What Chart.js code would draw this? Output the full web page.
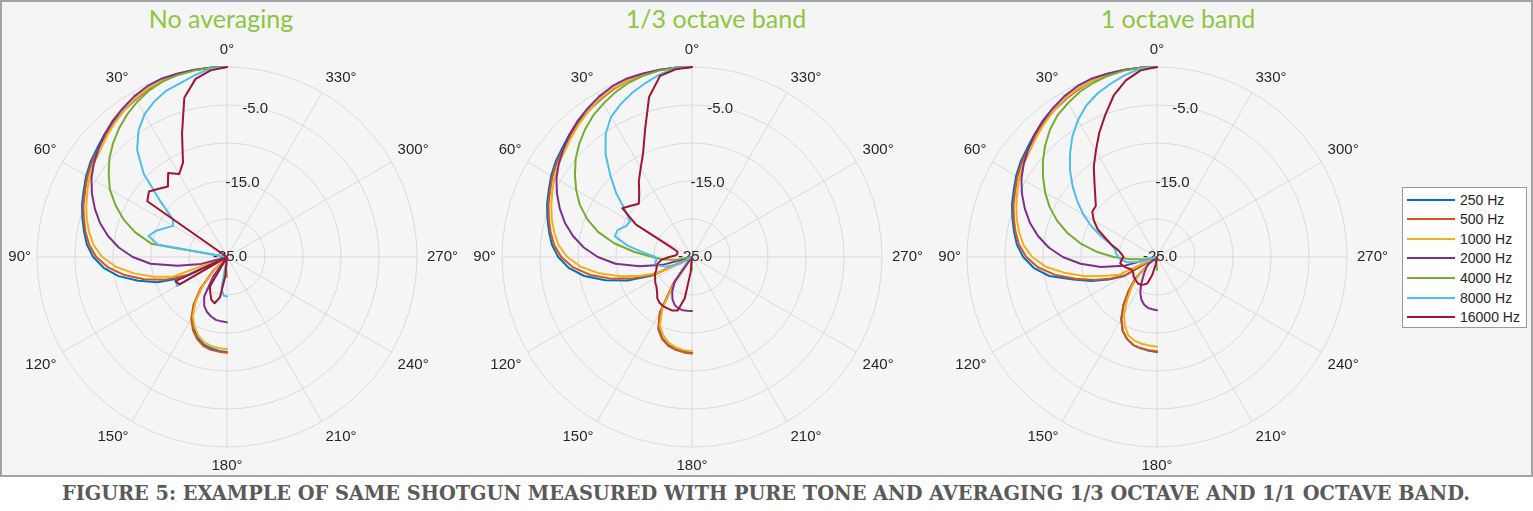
<!DOCTYPE html>
<html>
<head>
<meta charset="utf-8">
<script src="https://cdn.jsdelivr.net/npm/chart.js@4.4.1/dist/chart.umd.min.js"></script>
<style>
  html, body { margin: 0; padding: 0; background: #ffffff; }
  body { width: 1533px; height: 511px; position: relative; overflow: hidden; }
  #frame { position: absolute; left: 0; top: 0; width: 1529px; height: 473px; border: 2px solid #a0a4a8; background: #f5f5f5; }
  canvas { position: absolute; }
  .title { position: absolute; top: 5px; font-family: Lato, "Open Sans", sans-serif; font-size: 25px; line-height: 26px; color: #8dc63f; white-space: nowrap; transform: translateX(-50%); }
  #legend { position: absolute; left: 1402px; top: 187px; width: 123px; height: 139px; border: 1px solid #9a9a9a; background: #ffffff; z-index: 5; }
  .lgline { position: absolute; height: 2px; width: 48px; z-index: 6; }
  .lgtext { position: absolute; font-family: "Liberation Sans", Arial, sans-serif; font-size: 14px; line-height: 16px; color: #262626; white-space: nowrap; z-index: 6; }
  #caption { position: absolute; left: 62px; top: 483px; font-family: "DejaVu Serif", serif; font-weight: bold; font-size: 20px; line-height: 20px; color: #5a5a5a; white-space: nowrap; transform-origin: 0 0; }
</style>
</head>
<body>
<div id="frame"></div>
<canvas id="c0" width="540" height="436" style="left:-43px;top:40px"></canvas>
<canvas id="c1" width="540" height="436" style="left:422px;top:40px"></canvas>
<canvas id="c2" width="540" height="436" style="left:887px;top:40px"></canvas>
<div id="titles"></div>
<div id="legend"></div>
<div id="caption">FIGURE 5: EXAMPLE OF SAME SHOTGUN MEASURED WITH PURE TONE AND AVERAGING 1/3 OCTAVE AND 1/1 OCTAVE BAND.</div>
<script>
// ---------- data ----------
const angleDeg = [0,5,10,15,20,25,30,35,40,45,50,55,60,65,70,75,80,85,90,95,100,105,110,115,120,125,130,135,140,145,150,155,160,165,170,175,180];
const seriesNames = ['250 Hz','500 Hz','1000 Hz','2000 Hz','4000 Hz','8000 Hz','16000 Hz'];
const seriesColors = ['#0072BD','#D95319','#EDB120','#7E2F8E','#77AC30','#4DBEEE','#A2142F'];
const panelTitles = ['No averaging','1/3 octave band','1 octave band'];
const panelTitleCenters = [221, 716, 1178];
const angleTickLabels = ['0°','30°','60°','90°','120°','150°','180°','210°','240°','270°','300°','330°'];
const radialTickValues = [-5, -15, -25];
const radialTickLabels = ['-5.0','-15.0','-25.0'];

// No averaging
const noAvg250 = [0,0,0,-0.1,-0.3,-0.6,-1.0,-1.4,-1.8,-2.2,-2.7,-3.1,-3.6,-4.2,-4.7,-5.3,-5.9,-6.5,-7.4,-8.7,-10.5,-12.9,-15.3,-18.5,-25,-25,-25,-22.5,-19.8,-17.5,-15.8,-14.6,-13.7,-13.1,-12.8,-12.6,-12.5];
const noAvg500 = [0,0,0,-0.1,-0.3,-0.6,-1.0,-1.4,-1.9,-2.4,-2.9,-3.3,-3.8,-4.4,-4.9,-5.5,-6.1,-6.8,-7.8,-9.3,-11.3,-13.7,-16.2,-19.5,-25,-25,-25,-22.4,-19.6,-17.3,-15.6,-14.4,-13.5,-12.9,-12.6,-12.5,-12.4];
const noAvg1000 = [0,0,0,-0.1,-0.3,-0.5,-0.9,-1.4,-2.0,-2.6,-3.2,-3.6,-4.1,-4.7,-5.3,-5.9,-6.6,-7.4,-8.6,-10.3,-12.6,-15.0,-17.4,-25,-25,-25,-25,-22.8,-20.0,-17.8,-16.0,-14.9,-14.0,-13.4,-13.1,-12.95,-12.9];
const noAvg2000 = [0,0,0,0,0,-0.2,-0.6,-1.1,-1.6,-2.2,-2.9,-3.6,-4.4,-5.4,-6.5,-7.7,-9.1,-10.7,-12.6,-14.9,-18.4,-21.5,-25,-25,-25,-25,-25,-25,-25,-21.8,-19.0,-17.9,-17.3,-16.9,-16.6,-16.5,-16.4];
const noAvg4000 = [0,0,-0.1,-0.2,-0.4,-0.8,-1.4,-2.1,-2.9,-3.8,-4.8,-6.0,-7.2,-8.8,-10.5,-12.5,-14.9,-25,-25,-25,-25,-25,-25,-25,-25,-25,-25,-25,-25,-25,-25,-25,-25,-25,-25,-23.5,-22.4];
const noAvg8000 = [0,-0.1,-0.7,-1.3,-1.7,-2.4,-3.3,-4.7,-6.6,-9.5,-13.5,-16.3,-16.8,-16.0,-15.0,-14.3,-15.8,-25,-25,-25,-25,-25,-25,-17.6,-17.4,-25,-25,-25,-25,-25,-25,-25,-25,-25,-20.8,-19.9,-19.8];
const noAvg16000 = [0,-0.35,-1.2,-3.3,-7.7,-11.3,-12.4,-11.5,-12.9,-12.3,-11.6,-12.2,-25,-25,-25,-25,-25,-25,-25,-25,-25,-25,-25,-17.5,-17.8,-25,-25,-25,-25,-25,-20.5,-19.8,-19.0,-18.7,-19.6,-22.5,-25];

// 1/3 octave band
const third250 = [0,0,0,-0.1,-0.3,-0.6,-1.0,-1.4,-1.8,-2.2,-2.7,-3.1,-3.6,-4.2,-4.7,-5.3,-5.9,-6.5,-7.4,-8.7,-10.6,-13.2,-16.0,-19.2,-25,-25,-25,-25,-24.0,-20.8,-16.6,-14.6,-13.6,-13.0,-12.7,-12.5,-12.4];
const third500 = [0,0,0,-0.1,-0.3,-0.6,-1.0,-1.4,-1.9,-2.4,-2.9,-3.3,-3.8,-4.4,-4.9,-5.5,-6.1,-6.8,-7.8,-9.3,-11.4,-14.0,-16.8,-19.6,-25,-25,-25,-25,-24.0,-20.7,-16.5,-14.5,-13.5,-12.9,-12.6,-12.4,-12.3];
const third1000 = [0,0,0,-0.1,-0.3,-0.5,-0.9,-1.4,-2.0,-2.6,-3.2,-3.6,-4.1,-4.7,-5.3,-5.9,-6.6,-7.4,-8.6,-10.3,-12.6,-15.2,-17.8,-20.0,-25,-25,-25,-25,-24.2,-21.2,-17.2,-15.0,-14.0,-13.3,-12.9,-12.7,-12.6];
const third2000 = [0,0,0,0,0,-0.2,-0.6,-1.1,-1.6,-2.2,-2.9,-3.6,-4.4,-5.4,-6.5,-7.7,-9.1,-10.7,-12.6,-14.9,-18.0,-21.0,-25,-25,-25,-25,-25,-25,-25,-21.0,-19.8,-18.9,-18.3,-18.0,-17.9,-17.9,-17.9];
const third4000 = [0,0,-0.1,-0.3,-0.6,-1.1,-1.7,-2.3,-3.1,-4.0,-5.0,-6.2,-7.4,-8.7,-10.3,-12.2,-14.6,-17.4,-19.8,-21.2,-23.0,-25,-25,-25,-25,-25,-25,-25,-25,-25,-25,-25,-25,-25,-25,-24.0,-23.3];
const third8000 = [0,-0.05,-0.6,-1.3,-2.0,-2.8,-3.7,-5.2,-7.3,-9.8,-12.0,-14.3,-15.6,-15.4,-14.6,-14.5,-16.4,-18.7,-20.2,-20.3,-20.1,-20.6,-21.3,-22.5,-23.3,-25,-25,-25,-25,-25,-25,-25,-25,-25,-25,-25,-25];
const third16000 = [0,-0.2,-0.8,-3.2,-7.0,-9.8,-11.5,-12.8,-14.2,-15.1,-14.5,-13.8,-16.5,-22.0,-23.0,-23.0,-23.0,-22.8,-22.0,-21.0,-20.5,-20.2,-20.0,-19.6,-19.4,-19.1,-18.9,-18.5,-17.9,-17.6,-17.5,-17.5,-17.5,-17.7,-19.5,-23.0,-25];

// 1 octave band
const octave250 = [0,0,0,-0.1,-0.3,-0.6,-1.0,-1.4,-1.8,-2.2,-2.7,-3.1,-3.6,-4.2,-4.7,-5.3,-5.9,-6.5,-7.4,-8.7,-10.6,-13.6,-15.8,-18.0,-20.0,-25,-23.5,-21.0,-19.2,-17.3,-15.6,-14.3,-13.5,-13.0,-12.8,-12.6,-12.5];
const octave500 = [0,0,0,-0.1,-0.3,-0.6,-1.0,-1.4,-1.9,-2.4,-2.9,-3.3,-3.8,-4.4,-4.9,-5.5,-6.1,-6.8,-7.8,-9.3,-11.4,-13.9,-16.2,-18.3,-20.2,-25,-23.5,-21.0,-19.2,-17.3,-15.6,-14.3,-13.5,-13.0,-12.8,-12.7,-12.6];
const octave1000 = [0,0,0,-0.1,-0.3,-0.5,-0.9,-1.4,-2.0,-2.6,-3.2,-3.6,-4.1,-4.7,-5.3,-5.9,-6.6,-7.4,-8.6,-10.3,-12.8,-15.2,-17.8,-19.5,-25,-25,-23.5,-21.5,-19.8,-18.2,-16.3,-15.0,-14.0,-13.6,-13.4,-13.3,-13.2];
const octave2000 = [0,0,0,0,0,-0.2,-0.6,-1.1,-1.6,-2.2,-2.9,-3.6,-4.4,-5.4,-6.5,-7.7,-9.1,-10.7,-12.6,-14.9,-17.5,-20.5,-25,-25,-25,-25,-23.5,-23.0,-22.5,-21.8,-20.8,-19.8,-19.0,-18.5,-18.2,-18.1,-18.0];
const octave4000 = [0,0,-0.1,-0.3,-0.6,-1.0,-1.6,-2.2,-3.1,-4.2,-5.4,-6.7,-8.0,-9.4,-11.0,-12.8,-14.8,-17.0,-19.3,-21.5,-23.5,-25,-25,-25,-25,-25,-25,-25,-25,-25,-25,-25,-25,-25,-25,-24.2,-23.3];
const octave8000 = [0,-0.1,-0.7,-1.4,-2.1,-3.0,-4.2,-5.6,-7.2,-8.8,-10.5,-12.2,-13.8,-15.5,-17.3,-18.8,-19.4,-19.6,-19.9,-20.3,-21.0,-22.5,-25,-25,-25,-25,-25,-25,-25,-25,-25,-25,-25,-25,-25,-25,-25];
const octave16000 = [0,-0.35,-1.4,-3.0,-5.1,-7.0,-8.9,-10.5,-12.2,-13.5,-14.5,-14.6,-15.4,-16.4,-17.8,-18.8,-19.8,-20.3,-20.6,-20.3,-20.1,-20.4,-20.8,-21.2,-21.3,-21.2,-21.0,-20.9,-20.8,-20.7,-20.8,-21.0,-21.3,-22.5,-24.0,-25,-25];

const panels = [
  [noAvg250, noAvg500, noAvg1000, noAvg2000, noAvg4000, noAvg8000, noAvg16000],
  [third250, third500, third1000, third2000, third4000, third8000, third16000],
  [octave250, octave500, octave1000, octave2000, octave4000, octave8000, octave16000]
];

// ---------- chart construction ----------
const TEXT = '#262626';
const GRID = '#d9d9d9';
const STEP = 5;
const N = 360 / STEP;
// Radar positions run clockwise from the top; the polar angles here run counter-clockwise.
const posAngle = Array.from({length: N}, (_, k) => (360 - k * STEP) % 360);
const radarLabels = posAngle.map(a => (a % 30 === 0 ? angleTickLabels[a / 30] : ''));

function toRadar(values) {
  return posAngle.map(a => {
    const i = angleDeg.indexOf(a);
    return i >= 0 ? values[i] : null;
  });
}

const rTickPlugin = {
  id: 'rTicks',
  beforeDatasetsDraw(chart) {
    const s = chart.scales.r;
    const ctx = chart.ctx;
    ctx.save();
    ctx.font = '15px "Liberation Sans", Arial, sans-serif';
    ctx.fillStyle = TEXT;
    ctx.textAlign = 'center';
    ctx.textBaseline = 'middle';
    radialTickValues.forEach((v, i) => {
      const d = s.getDistanceFromCenterForValue(v);
      ctx.fillText(radialTickLabels[i], s.xCenter + 3 + d * 0.165, s.yCenter - d * 0.975);
    });
    ctx.restore();
  }
};

function labelPadding(ctx) {
  const a = posAngle[ctx.index];
  if (a === 0) return 8;
  if (a === 180) return 10;
  if (a === 90) return 6;
  if (a === 270) return 10;
  return 7;
}

panels.forEach((series, p) => {
  new Chart(document.getElementById('c' + p), {
    type: 'radar',
    data: {
      labels: radarLabels,
      datasets: series.map((vals, i) => ({
        label: seriesNames[i],
        data: toRadar(vals),
        borderColor: seriesColors[i],
        backgroundColor: 'transparent',
        borderWidth: 2,
        pointRadius: 0,
        pointHoverRadius: 0,
        fill: false,
        spanGaps: false,
        tension: 0,
        borderJoinStyle: 'round',
        borderCapStyle: 'round',
        order: series.length - 1 - i
      }))
    },
    options: {
      responsive: false,
      devicePixelRatio: 1,
      animation: false,
      events: [],
      layout: { padding: 0 },
      plugins: { legend: { display: false }, tooltip: { enabled: false }, title: { display: false } },
      scales: {
        r: {
          min: -25,
          max: 0,
          startAngle: 0,
          ticks: { display: false, stepSize: 5 },
          grid: { circular: true, color: GRID, lineWidth: 1 },
          angleLines: { display: true, color: GRID, lineWidth: c => (posAngle[c.index] % 30 === 0 ? 1 : 0) },
          pointLabels: {
            display: true,
            color: TEXT,
            font: { family: '"Liberation Sans", Arial, sans-serif', size: 15 },
            padding: labelPadding
          }
        }
      }
    },
    plugins: [rTickPlugin]
  });
});

// ---------- titles ----------
const titles = document.getElementById('titles');
panelTitles.forEach((t, i) => {
  const d = document.createElement('div');
  d.className = 'title';
  d.style.left = panelTitleCenters[i] + 'px';
  d.textContent = t;
  titles.appendChild(d);
});

// ---------- legend ----------
seriesNames.forEach((name, i) => {
  const cy = 199.5 + 19.6 * i;
  const ln = document.createElement('div');
  ln.className = 'lgline';
  ln.style.left = '1407px';
  ln.style.top = (cy - 1) + 'px';
  ln.style.background = seriesColors[i];
  document.body.appendChild(ln);
  const tx = document.createElement('div');
  tx.className = 'lgtext';
  tx.style.left = '1460px';
  tx.style.top = (cy - 8) + 'px';
  tx.textContent = name;
  document.body.appendChild(tx);
});

// ---------- caption width fit ----------
const cap = document.getElementById('caption');
const w = cap.getBoundingClientRect().width;
cap.style.transform = 'scaleX(' + (1408 / w) + ')';
</script>
</body>
</html>
